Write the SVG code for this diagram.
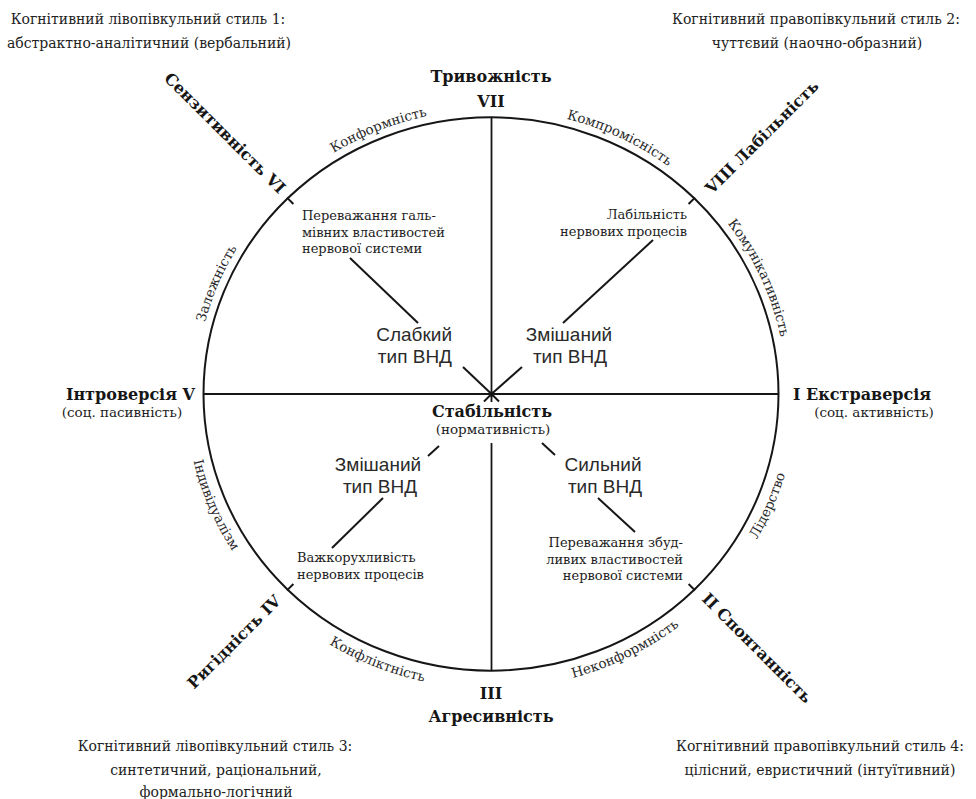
<svg xmlns="http://www.w3.org/2000/svg" xmlns:xlink="http://www.w3.org/1999/xlink" width="976" height="799" viewBox="0 0 976 799">
<style>
  .corner { font-family: "DejaVu Serif", "Liberation Serif", serif; font-size: 14px; fill: #222; text-anchor: middle; }
  .bold { font-family: "DejaVu Serif", "Liberation Serif", serif; font-size: 16px; font-weight: bold; fill: #161616; }
  .sub { font-family: "DejaVu Serif", "Liberation Serif", serif; font-size: 13.5px; fill: #222; }
  .small { font-family: "DejaVu Serif", "Liberation Serif", serif; font-size: 13px; fill: #222; }
  .arc { font-family: "DejaVu Serif", "Liberation Serif", serif; font-size: 13.5px; fill: #2a2a2a; }
  .sans { font-family: "Liberation Sans", Arial, sans-serif; font-size: 19px; fill: #2a2a2a; }
  .line { stroke: #161616; stroke-width: 2; fill: none; stroke-linecap: butt; }
  .axis { stroke: #161616; stroke-width: 1.8; fill: none; }
</style>
<defs>
  <path id="pZal" d="M198.0,431.2 A295.5,284.7 0 0 1 311.1,168.1"/>
  <path id="pKonf" d="M256.6,220.7 A295.5,284.7 0 0 1 529.6,111.7"/>
  <path id="pKomp" d="M470.4,110.0 A295.5,284.7 0 0 1 736.0,234.8"/>
  <path id="pKomu" d="M664.7,163.7 A295.5,284.7 0 0 1 784.9,423.8"/>
  <path id="pLid" d="M677.0,627.8 A305.5,294.7 0 0 0 793.9,355.5"/>
  <path id="pNekonf" d="M475.0,688.3 A305.5,294.7 0 0 0 747.2,554.5"/>
  <path id="pKonfl" d="M248.6,573.4 A305.5,294.7 0 0 0 530.9,686.2"/>
  <path id="pInd" d="M188.1,355.5 A305.5,294.7 0 0 0 305.0,627.8"/>
</defs>
<rect x="0" y="0" width="976" height="799" fill="#ffffff"/>

<g id="circle">
  <ellipse cx="491" cy="394" rx="287.5" ry="276.7" class="line"/>
</g>

<g id="connectors">
  <line x1="203.5" y1="394" x2="778.5" y2="394" class="axis"/>
  <line x1="491.5" y1="117.3" x2="491.5" y2="402" class="axis"/>
  <line x1="491.5" y1="443" x2="491.5" y2="670.7" class="axis"/>
  <circle cx="491.5" cy="394" r="2.6" fill="#161616"/>
  <line x1="491.5" y1="394" x2="463" y2="367" class="line"/>
  <line x1="491.5" y1="394" x2="522" y2="367" class="line"/>
  <line x1="491.5" y1="394" x2="484" y2="401.5" class="line"/>
  <line x1="491.5" y1="394" x2="499" y2="401.5" class="line"/>
  <line x1="350" y1="258" x2="418" y2="323" class="line"/>
  <line x1="653" y1="240" x2="563" y2="323" class="line"/>
  <line x1="439" y1="446" x2="428" y2="456" class="line"/>
  <line x1="383" y1="498" x2="332" y2="548" class="line"/>
  <line x1="542" y1="443" x2="555" y2="455" class="line"/>
  <line x1="598" y1="498" x2="635" y2="532" class="line"/>
  <line x1="287" y1="197.6" x2="293.4" y2="204" class="line"/>
  <line x1="695" y1="197.6" x2="688.6" y2="204" class="line"/>
  <line x1="287" y1="590.4" x2="293.4" y2="584" class="line"/>
  <line x1="695" y1="590.4" x2="688.6" y2="584" class="line"/>
</g>

<g id="style-1">
  <text class="corner" x="148" y="24">Когнітивний лівопівкульний стиль 1:</text>
  <text class="corner" x="149" y="48">абстрактно-аналітичний (вербальний)</text>
</g>
<g id="style-2">
  <text class="corner" x="816" y="24">Когнітивний правопівкульний стиль 2:</text>
  <text class="corner" x="817" y="48">чуттєвий (наочно-образний)</text>
</g>
<g id="style-3">
  <text class="corner" x="215" y="751">Когнітивний лівопівкульний стиль 3:</text>
  <text class="corner" x="216" y="775">синтетичний, раціональний,</text>
  <text class="corner" x="216" y="797">формально-логічний</text>
</g>
<g id="style-4">
  <text class="corner" x="820" y="751">Когнітивний правопівкульний стиль 4:</text>
  <text class="corner" x="820" y="775">цілісний, евристичний (інтуїтивний)</text>
</g>

<g id="axis-VII">
  <text class="bold" x="491" y="81.5" text-anchor="middle">Тривожність</text>
  <text class="bold" x="491" y="106.5" text-anchor="middle">VII</text>
</g>
<g id="axis-III">
  <text class="bold" x="491" y="699" text-anchor="middle">III</text>
  <text class="bold" x="491" y="722" text-anchor="middle">Агресивність</text>
</g>
<g id="axis-V">
  <text class="bold" x="195" y="400" text-anchor="end">Інтроверсія  V</text>
  <text class="sub" x="122" y="417" text-anchor="middle">(соц. пасивність)</text>
</g>
<g id="axis-I">
  <text class="bold" x="793" y="400">I  Екстраверсія</text>
  <text class="sub" x="874" y="417" text-anchor="middle">(соц. активність)</text>
</g>
<g id="center-stability">
  <text class="bold" x="492" y="417" text-anchor="middle">Стабільність</text>
  <text class="sub" x="493" y="434" text-anchor="middle">(нормативність)</text>
</g>

<g id="axis-VI">
  <text class="bold" transform="translate(225,133) rotate(45)" x="0" y="5.5" text-anchor="middle">Сензитивність  VI</text>
</g>
<g id="axis-VIII">
  <text class="bold" transform="translate(762,137) rotate(-45)" x="0" y="5.5" text-anchor="middle">VIII  Лабільність</text>
</g>
<g id="axis-II">
  <text class="bold" transform="translate(757,648) rotate(45)" x="0" y="5.5" text-anchor="middle">II  Спонтанність</text>
</g>
<g id="axis-IV">
  <text class="bold" transform="translate(234,642) rotate(-45)" x="0" y="5.5" text-anchor="middle">Ригідність  IV</text>
</g>

<g id="arc-labels">
  <text class="arc"><textPath href="#pZal" xlink:href="#pZal" startOffset="50%" text-anchor="middle">Залежність</textPath></text>
  <text class="arc"><textPath href="#pKonf" xlink:href="#pKonf" startOffset="50%" text-anchor="middle">Конформність</textPath></text>
  <text class="arc"><textPath href="#pKomp" xlink:href="#pKomp" startOffset="50%" text-anchor="middle">Компромісність</textPath></text>
  <text class="arc"><textPath href="#pKomu" xlink:href="#pKomu" startOffset="50%" text-anchor="middle">Комунікативність</textPath></text>
  <text class="arc"><textPath href="#pLid" xlink:href="#pLid" startOffset="50%" text-anchor="middle">Лідерство</textPath></text>
  <text class="arc"><textPath href="#pNekonf" xlink:href="#pNekonf" startOffset="50%" text-anchor="middle">Неконформність</textPath></text>
  <text class="arc"><textPath href="#pKonfl" xlink:href="#pKonfl" startOffset="50%" text-anchor="middle">Конфліктність</textPath></text>
  <text class="arc"><textPath href="#pInd" xlink:href="#pInd" startOffset="50%" text-anchor="middle">Індивідуалізм</textPath></text>
</g>

<g id="node-weak">
  <text class="sans" x="452" y="341" text-anchor="end">Слабкий</text>
  <text class="sans" x="452" y="362.5" text-anchor="end">тип ВНД</text>
</g>
<g id="node-mixed-upper">
  <text class="sans" x="569" y="341" text-anchor="middle">Змішаний</text>
  <text class="sans" x="570" y="362.5" text-anchor="middle">тип ВНД</text>
</g>
<g id="node-mixed-lower">
  <text class="sans" x="378" y="471" text-anchor="middle">Змішаний</text>
  <text class="sans" x="380" y="492.5" text-anchor="middle">тип ВНД</text>
</g>
<g id="node-strong">
  <text class="sans" x="603" y="471" text-anchor="middle">Сильний</text>
  <text class="sans" x="605" y="492.5" text-anchor="middle">тип ВНД</text>
</g>

<g id="note-inhibition">
  <text class="small" x="302" y="220">Переважання галь-</text>
  <text class="small" x="302" y="236.5">мівних властивостей</text>
  <text class="small" x="302" y="253">нервової системи</text>
</g>
<g id="note-lability">
  <text class="small" x="687" y="219" text-anchor="end">Лабільність</text>
  <text class="small" x="687" y="236" text-anchor="end">нервових процесів</text>
</g>
<g id="note-inertia">
  <text class="small" x="297" y="562">Важкорухливість</text>
  <text class="small" x="297" y="579">нервових процесів</text>
</g>
<g id="note-excitation">
  <text class="small" x="683" y="547" text-anchor="end">Переважання збуд-</text>
  <text class="small" x="683" y="563.5" text-anchor="end">ливих властивостей</text>
  <text class="small" x="683" y="580" text-anchor="end">нервової системи</text>
</g>
</svg>
